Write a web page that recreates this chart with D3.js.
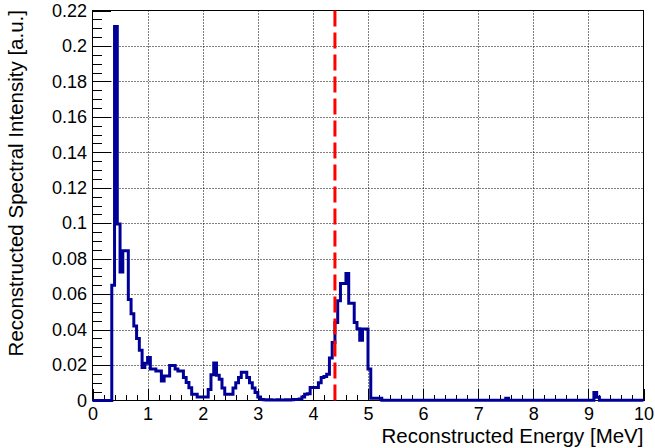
<!DOCTYPE html>
<html>
<head>
<meta charset="utf-8">
<script src="https://cdn.jsdelivr.net/npm/d3@7"></script>
<style>
  html, body { margin: 0; padding: 0; background: #fff; }
  svg { display: block; }
  text { font-family: "Liberation Sans", Arial, Helvetica, sans-serif; fill: #000; }
</style>
</head>
<body>
<svg id="chart" width="655" height="448"></svg>
<script>
// Histogram binning (MeV)
const binStart = 0;
const binWidth = 0.05;

// Reconstructed spectral intensity per bin (a.u.), 200 bins over 0-10 MeV
const intensity = [
  0, 0, 0, 0, 0, 0, 0,
  0.065, 0.211, 0.0995, 0.0725, 0.0845, 0.0845, 0.057, 0.049, 0.042, 0.035,
  0.0284, 0.0186, 0.021, 0.0242, 0.0177, 0.0177, 0.0167, 0.0167, 0.011, 0.0138,
  0.0138, 0.0198, 0.0198, 0.0177, 0.0167, 0.0167, 0.013, 0.0101, 0.0072, 0.0035,
  0.0035, 0.002, 0.002, 0.002, 0.002, 0.0062, 0.0145, 0.0212, 0.0142, 0.012,
  0.007, 0.0035, 0.0035, 0.0035, 0.007, 0.010, 0.013, 0.016, 0.016, 0.013,
  0.010, 0.007, 0.0045, 0.002,
  0.0005, 0.0004, 0.0003, 0.0004, 0.0003, 0.0003, 0.0004, 0.0003, 0.0003, 0.0004,
  0.0003, 0.0004, 0.0005, 0.0006, 0.0008,
  0.002, 0.0035, 0.0038, 0.0073, 0.0073, 0.0073, 0.010, 0.013, 0.0135, 0.0148,
  0.024, 0.0327, 0.044, 0.0563, 0.066, 0.066, 0.0717, 0.0548, 0.0548, 0.044,
  0.0405, 0.034, 0.0403, 0.0403, 0.0177,
  0.0012, 0.0012, 0.0012, 0.0012,
  0.0002, 0.0002, 0.0002, 0.0002, 0.0002, 0.0002, 0.0002, 0.0002, 0.0002, 0.0002,
  0.0002, 0.0002, 0.0002, 0.0002, 0.0002, 0.0002, 0.0002, 0.0002, 0.0002, 0.0002,
  0.0002, 0.0002, 0.0002, 0.0002, 0.0002, 0.0002, 0.0002, 0.0002, 0.0002, 0.0002,
  0.0002, 0.0002, 0.0002, 0.0002, 0.0002, 0.0002, 0.0002, 0.0002, 0.0002, 0.0002,
  0.0002, 0.0002, 0.0002, 0.0002, 0.0002,
  0.0012,
  0.0002, 0.0002, 0.0002, 0.0002, 0.0002, 0.0002, 0.0002, 0.0002, 0.0002, 0.0002,
  0.0002, 0.0002, 0.0002, 0.0002, 0.0002, 0.0002, 0.0002, 0.0002, 0.0002, 0.0002,
  0.0002, 0.0002, 0.0002, 0.0002, 0.0002, 0.0002, 0.0002, 0.0002, 0.0002, 0.0002,
  0.0002,
  0.0045, 0.0018,
  0.0002, 0.0002, 0.0002, 0.0002, 0.0002, 0.0002, 0.0002, 0.0002, 0.0002, 0.0002,
  0.0002, 0.0002, 0.0002, 0.0002, 0.0002, 0.0002
];

// Reference energy marker (MeV)
const markerEnergy = 4.4;

// Axes
const xDomain = [0, 10];
const yDomain = [0, 0.22];
const xTicks = [0, 1, 2, 3, 4, 5, 6, 7, 8, 9, 10];
const xTickLabels = ["0", "1", "2", "3", "4", "5", "6", "7", "8", "9", "10"];
const yTicks = [0, 0.02, 0.04, 0.06, 0.08, 0.1, 0.12, 0.14, 0.16, 0.18, 0.2, 0.22];
const yTickLabels = ["0", "0.02", "0.04", "0.06", "0.08", "0.1", "0.12", "0.14", "0.16", "0.18", "0.2", "0.22"];
const xMinorStep = 0.2;
const yMinorStep = 0.005;
const xTitle = "Reconstructed Energy [MeV]";
const yTitle = "Reconstructed Spectral Intensity [a.u.]";

// ---- drawing ----
const svg = d3.select("#chart");
const frame = { left: 92.5, right: 643.5, top: 10.5, bottom: 400.5 };

const x = d3.scaleLinear().domain(xDomain).range([frame.left, frame.right]);
const y = d3.scaleLinear().domain(yDomain).range([frame.bottom, frame.top]);

const xMinor = d3.range(xDomain[0], xDomain[1] + 1e-9, xMinorStep)
  .map(v => +v.toFixed(3)).filter(v => !xTicks.includes(v));
const yMinor = d3.range(yDomain[0], yDomain[1] + 1e-9, yMinorStep)
  .map(v => +v.toFixed(4)).filter(v => !yTicks.some(t => Math.abs(t - v) < 1e-9));

// dotted grid at the major ticks
const grid = svg.append("g")
  .attr("stroke", "#000").attr("stroke-width", 1).attr("stroke-dasharray", "1,2");
grid.selectAll("line.gx").data(xTicks.filter(t => t > xDomain[0] && t < xDomain[1]))
  .join("line").attr("class", "gx")
  .attr("x1", d => Math.round(x(d)) + 0.5).attr("x2", d => Math.round(x(d)) + 0.5)
  .attr("y1", frame.top).attr("y2", frame.bottom);
grid.selectAll("line.gy").data(yTicks.filter(t => t > yDomain[0] && t < yDomain[1]))
  .join("line").attr("class", "gy")
  .attr("y1", d => Math.round(y(d)) + 0.5).attr("y2", d => Math.round(y(d)) + 0.5)
  .attr("x1", frame.left).attr("x2", frame.right);

// frame
svg.append("rect")
  .attr("x", frame.left).attr("y", frame.top)
  .attr("width", frame.right - frame.left).attr("height", frame.bottom - frame.top)
  .attr("fill", "none").attr("stroke", "#000").attr("stroke-width", 1);

// x axis: major and minor ticks pointing into the frame
const xAxis = d3.axisBottom(x).tickValues(xTicks)
  .tickFormat((d, i) => xTickLabels[i]).tickSizeInner(-12).tickSizeOuter(0).tickPadding(6.5);
const gx = svg.append("g").attr("transform", `translate(0,${frame.bottom})`).call(xAxis);
gx.select(".domain").remove();
gx.selectAll("text").attr("font-size", 18).attr("font-family", "Liberation Sans, Arial, sans-serif");

const gxm = svg.append("g").attr("transform", `translate(0,${frame.bottom})`)
  .call(d3.axisBottom(x).tickValues(xMinor).tickFormat("").tickSizeInner(-6).tickSizeOuter(0));
gxm.select(".domain").remove();

// y axis
const yAxis = d3.axisLeft(y).tickValues(yTicks)
  .tickFormat((d, i) => yTickLabels[i]).tickSizeInner(-18).tickSizeOuter(0).tickPadding(5.5);
const gy = svg.append("g").attr("transform", `translate(${frame.left},0)`).call(yAxis);
gy.select(".domain").remove();
gy.selectAll("text").attr("font-size", 18).attr("font-family", "Liberation Sans, Arial, sans-serif");

const gym = svg.append("g").attr("transform", `translate(${frame.left},0)`)
  .call(d3.axisLeft(y).tickValues(yMinor).tickFormat("").tickSizeInner(-9).tickSizeOuter(0));
gym.select(".domain").remove();

svg.selectAll(".tick line").attr("stroke", "#000").attr("shape-rendering", "crispEdges");

// histogram outline
const steps = intensity.map((v, i) => ({ e: binStart + i * binWidth, v }));
steps.push({ e: binStart + intensity.length * binWidth, v: intensity[intensity.length - 1] });
const histLine = d3.line().x(d => x(d.e)).y(d => y(d.v)).curve(d3.curveStepAfter);
svg.append("path")
  .datum(steps)
  .attr("d", histLine)
  .attr("fill", "none")
  .attr("stroke", "#000099")
  .attr("stroke-width", 3)
  .attr("stroke-linejoin", "miter");

// energy marker
svg.append("line")
  .attr("x1", x(markerEnergy)).attr("x2", x(markerEnergy))
  .attr("y1", y(yDomain[1])).attr("y2", y(0))
  .attr("stroke", "#ff0000").attr("stroke-width", 3)
  .attr("stroke-dasharray", "16,6");

// titles
svg.append("text")
  .attr("x", frame.right).attr("y", 443)
  .attr("text-anchor", "end").attr("font-size", 20.5)
  .text(xTitle);
svg.append("text")
  .attr("transform", `translate(23,${frame.top - 0.5}) rotate(-90)`)
  .attr("text-anchor", "end").attr("font-size", 20.5)
  .text(yTitle);
</script>
</body>
</html>
